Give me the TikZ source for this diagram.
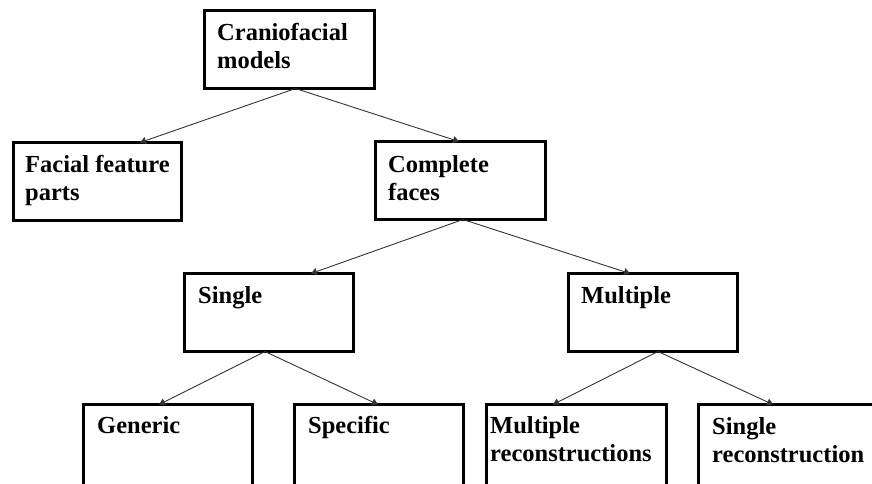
\documentclass[tikz,border=0pt]{standalone}
\usepackage{fontspec}
\setmainfont{Liberation Serif}
\usetikzlibrary{arrows.meta}
\begin{document}
\begin{tikzpicture}[x=1pt,y=-1pt,
  box/.style={draw=black, line width=3pt, fill=white, rectangle, inner sep=0pt, outer sep=0pt,
    anchor=north west, minimum width=#1, minimum height=78pt},
  tallbox/.style={box=#1, minimum height=90pt},
  lbl/.style={anchor=base west, inner sep=0pt, font=\fontsize{24.5}{28.5}\selectfont\bfseries},
  arr/.style={draw=black!80, line width=0.9pt, -{Triangle[length=6pt,width=7pt]}}]
\useasboundingbox (0,0) rectangle (872,483);
\clip (0,0) rectangle (872,483);
% boxes
\node[box=170pt] (cm) at (204.5,10.5) {};
\node[box=168pt] (ffp) at (13.5,142.5) {};
\node[box=170pt] (cf) at (375.5,141.5) {};
\node[box=169pt] (sg) at (184.5,273.5) {};
\node[box=169pt] (mu) at (568.5,273.5) {};
\node[tallbox=169pt] (ge) at (83.5,404.5) {};
\node[tallbox=169pt] (sp) at (294.5,404.5) {};
\node[tallbox=180pt] (mr) at (486.5,404.5) {};
\node[tallbox=180pt] (sr) at (698.5,404.5) {};
% labels
\node[lbl] (tcm) at (217,40) {\begin{tabular}[t]{@{}l@{}}Craniofacial\\models\end{tabular}};
\node[lbl] (tffp) at (25,172) {\begin{tabular}[t]{@{}l@{}}Facial feature\\parts\end{tabular}};
\node[lbl] (tcf) at (388,172) {\begin{tabular}[t]{@{}l@{}}Complete\\faces\end{tabular}};
\node[lbl] (tsg) at (198,303) {Single};
\node[lbl] (tmu) at (581,303) {Multiple};
\node[lbl] (tge) at (97,433) {Generic};
\node[lbl] (tsp) at (308,433) {Specific};
\node[lbl] (tmr) at (490,433) {\begin{tabular}[t]{@{}l@{}}Multiple\\reconstructions\end{tabular}};
\node[lbl] (tsr) at (712,434) {\begin{tabular}[t]{@{}l@{}}Single\\reconstruction\end{tabular}};
% connectors
\draw[arr] ([xshift=6pt]cm.south) -- ([xshift=126.5pt]ffp.north west);
\draw[arr] ([xshift=6pt]cm.south) -- ([xshift=-1.5pt]cf.north);
\draw[arr] ([xshift=2.5pt]cf.south) -- ([xshift=126.5pt]sg.north west);
\draw[arr] ([xshift=2.5pt]cf.south) -- ([xshift=61.5pt]mu.north west);
\draw[arr] ([xshift=-4pt]sg.south) -- ([xshift=75.5pt]ge.north west);
\draw[arr] ([xshift=-4pt]sg.south) -- ([xshift=83.5pt]sp.north west);
\draw[arr] ([xshift=5pt]mu.south) -- ([xshift=66.5pt]mr.north west);
\draw[arr] ([xshift=5pt]mu.south) -- ([xshift=74.5pt]sr.north west);
\end{tikzpicture}
\end{document}
